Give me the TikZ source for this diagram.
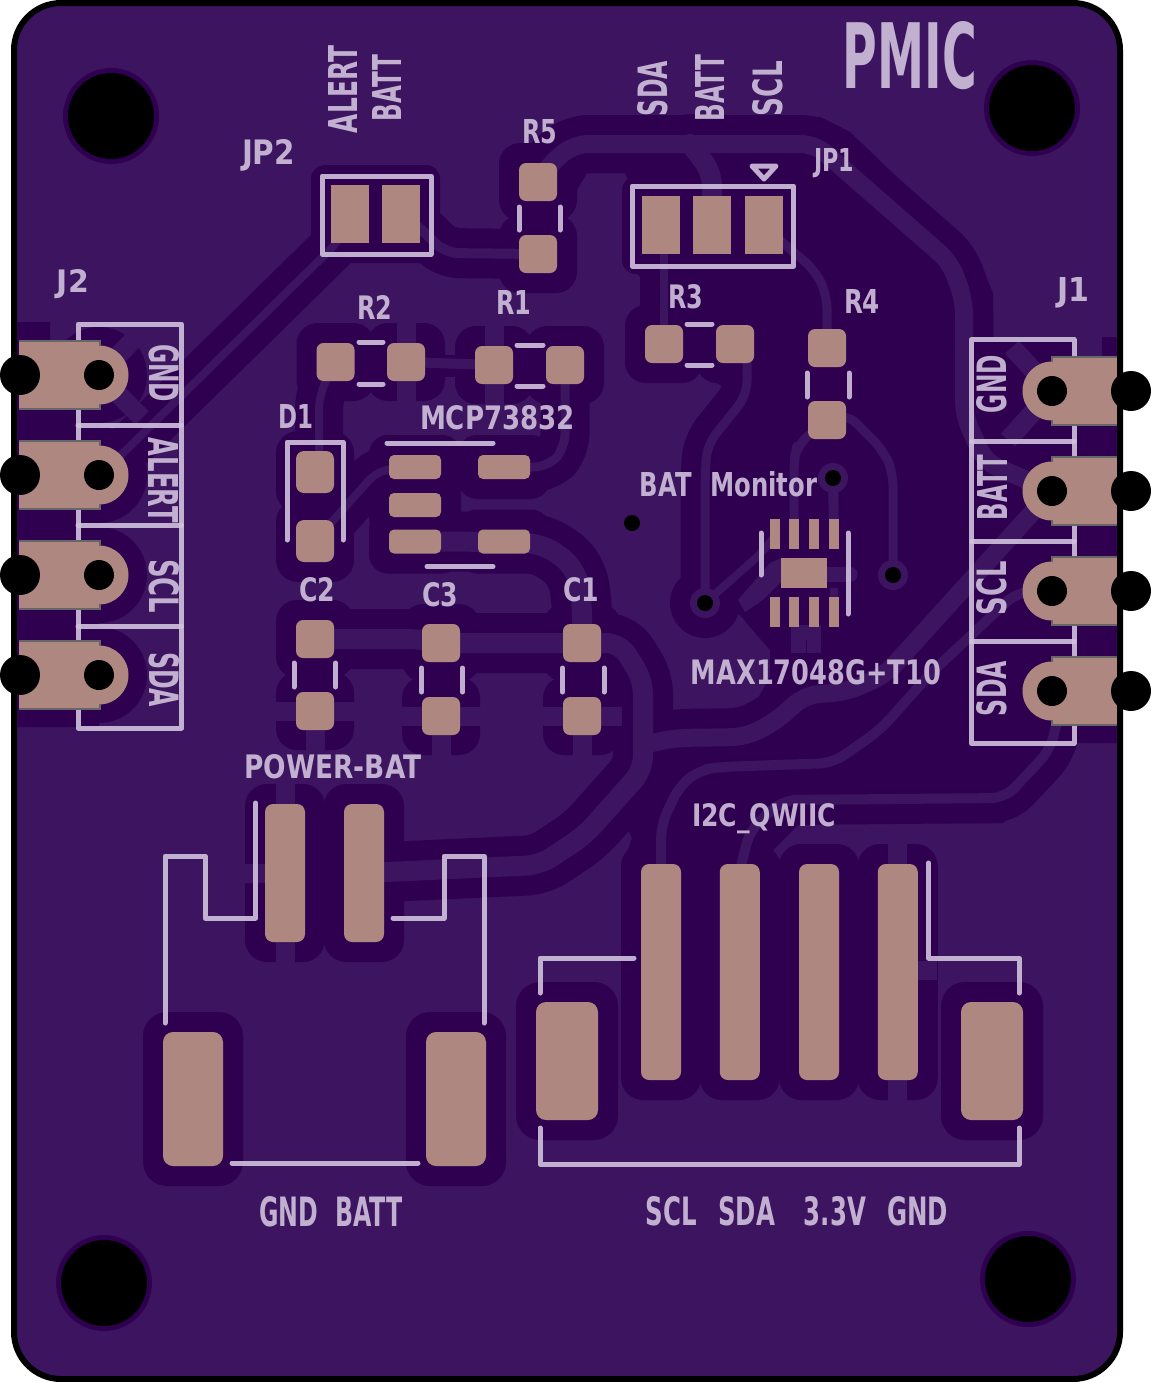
\documentclass[tikz,border=0pt]{standalone}
\usepackage{fontspec}
\setmainfont{DejaVu Sans}
\usetikzlibrary{positioning}

\definecolor{pcblight}{HTML}{3C1460}
\definecolor{pcbdark}{HTML}{300050}
\definecolor{padcol}{HTML}{AE8880}
\definecolor{silkcol}{HTML}{D0C2DC}
\definecolor{edgecol}{HTML}{666666}

\newcommand{\silklbl}[6]{\node[lbl,rotate=#2] (#1) at (#3) {\resizebox{#4pt}{#5pt}{#6}};}

% name/x/y/w/h/radius
\def\padlist{JPtwoa/350/214/38/58/0,JPtwob/401/214/38/58/0,
  JPonea/661/225/38/58/0,JPoneb/712/225/38/58/0,JPonec/764/225/38/58/0,
  Rfivea/538/182/38/38/7,Rfiveb/538/254/38/38/7,
  Rtwoa/335.5/362/38/38/7,Rtwob/406/362/38/38/7,
  Ronea/494/365/38/38/7,Roneb/565/365/38/38/7,
  Rthreea/664/344/38/38/7,Rthreeb/735/344/38/38/7,
  Rfoura/827/348/38/38/7,Rfourb/827/420/38/38/7,
  Donea/315/472/38/42/8,Doneb/315/541/38/42/8,
  Ua/415/467/52/24/5,Ub/415/505/52/24/5,Uc/415/541.5/52/24/5,
  Ud/504/541.5/52/24/5,Ue/504/467/52/24/5,
  Ctwoa/315/639/38/38/7,Ctwob/315/711/38/38/7,
  Cthreea/441/643/38/38/7,Cthreeb/441/716/38/38/7,
  Conea/582/643/38/38/7,Coneb/582/716/38/38/7,
  BTa/285/873/40/138/8,BTb/364/873/40/138/8,
  BTc/193/1099/60/134/10,BTd/456/1099/60/134/10,
  Qa/661/972/40/216/8,Qb/739.75/972/40/216/8,Qc/819/972/40/216/8,Qd/897.75/972/40/216/8,
  Qe/567/1061/62/118/10,Qf/992/1061/62/118/10}

\begin{document}
\begin{tikzpicture}[x=1pt,y=-1pt,
    clr/.style={fill=pcbdark,inner sep=0pt,outer sep=0pt},
    padbox/.style={fill=padcol,inner sep=0pt,outer sep=0pt},
    trk/.style={draw=\tcol,line width=#1*1pt+\tadd*1pt,line cap=round,line join=round,rounded corners=14pt},
    spoke/.style={draw=pcblight,line width=19pt},
    silk/.style={draw=silkcol,line width=5pt,line cap=round,line join=round,opacity=0.9},
    lbl/.style={inner sep=0pt,outer sep=0pt,text=silkcol,text opacity=0.9,font=\bfseries}]
    \useasboundingbox (0,0) rectangle (1151,1382);
    \draw[black,line width=6pt,fill=pcblight,rounded corners=47pt] (14,3) rectangle (1120,1379);

    % keep-out of the pour
    \fill[pcbdark] (17,322) -- (50,322) -- (50,341) -- (99,341) -- (99,727) -- (17,727) -- cycle;
    \fill[pcbdark] (548,140) -- (574,123) -- (590,117) -- (820,117) -- (850,132) -- (976,253) -- (993,293)
        -- (993,337) -- (1117,337) -- (1117,743) -- (1075,743) -- (1070,757) -- (1003,823) -- (800,823)
        -- (773,850) -- (780,860) -- (780,900) -- (622,900) -- (622,867) -- (632,838) -- (628,830)
        -- (665,745) -- (740,730) -- (770,677) -- (770,650) -- (750,627) -- (740,615) -- (705,603)
        -- (682,590) -- (682,457) -- (687,440) -- (700,430) -- (723,397) -- (723,387) -- (697,370)
        -- (687,380) -- (643,380) -- (625,360) -- (625,327) -- (640,307) -- (640,277) -- (623,257)
        -- (623,187) -- (628,180) -- (625,173) -- (587,173) -- (577,190) -- (548,190) -- cycle;
    \foreach \y in {375,475,575,675} {
        \fill[pcbdark] (99,\y) circle[radius=48pt];
    }
    \foreach \x/\y in {111/116,1032/108,104/1283,1028/1279} {
        \fill[pcbdark] (\x,\y) circle[radius=48pt];
    }
    \foreach \n/\x/\y/\w/\h/\rad in \padlist {
        \node[clr,minimum width={\w pt+40pt},minimum height={\h pt+40pt},rounded corners={\rad pt+14pt}] (\n) at (\x,\y) {};
    }
    \coordinate (Va) at (705,603);
    \coordinate (Vb) at (833,478);
    \coordinate (Vc) at (893,575);
    \coordinate (JoneBatt) at (1052,491);
    \coordinate (JoneScl) at (1052,591);
    \coordinate (JtwoAlert) at (99,475);
    \fill[pcbdark] (Va) circle[radius=35pt];

    % first pass is the clearance, second the copper
    \foreach \tcol/\tadd in {pcbdark/40,pcblight/0} {
        \draw[trk=18] (Rfivea.center) -- (548,166) -- (574,144) -- (815,144) -- (950,262) -- (964,300)
            -- (964,415) -- (985,462) -- (JoneBatt);
        \draw[trk=20] (690,144) -- (712,172) -- (JPoneb.center);
        \draw[trk=10] (JPtwob.center) -- (418,226) -- (445,253) -- (Rfiveb.center);
        \draw[trk=8] (JPtwoa.center) -- (340,240) -- (118,458) -- (JtwoAlert);
        \draw[trk=8] (Rtwoa.center) -- (319,395) -- (319,472);
        \draw[trk=8] (Doneb.center) -- (378,470) -- (Ua.center);
        \draw[trk=9] (Ue.center) -- (548,467) -- (565,448) -- (Roneb.center);
        \draw[trk=20] (Uc.center) -- (530,542) -- (556,551) -- (577,572) -- (582,603) -- (Conea.center);
        \draw[trk=20] (Ctwoa.center) -- (420,639) -- (Cthreea.center) -- (Conea.center) -- (620,643)
            -- (643,680) -- (643,770) -- (585,835) -- (540,865) -- (BTb.center);
        \draw[trk=18] (643,745) -- (675,738) -- (745,737) -- (775,722) -- (805,695) -- (846,692)
            -- (885,675) -- (1030,515) -- (JoneBatt);
        \draw[trk=10] (661,870) -- (661,825) -- (680,785) -- (700,770) -- (720,767) -- (833,763)
            -- (880,730) -- (930,674) -- (1017,592) -- (JoneScl);
        \draw[trk=10] (740,870) -- (750,830) -- (783,800) -- (1005,798) -- (1050,750) -- (1057,722);
        \draw[trk=9] (JPonec.center) -- (785,245) -- (815,270) -- (827,295) -- (Rfoura.center);
        \draw[trk=9] (Rfourb.center) -- (846,413) -- (883,450) -- (893,472) -- (Vc);
        \draw[trk=9] (Rfourb.center) -- (797,445) -- (794,460) -- (794,534);
        \draw[trk=8] (664,225) -- (Rthreea.center);
        \draw[trk=9] (747,344) -- (747,395) -- (707,445) -- (705,480) -- (Va);
        \draw[trk=8] (Va) -- (765,550) -- (775,535);
        \draw[trk=10] (Vb) -- (834,534);
    }

    \fill[pcbdark] (425,355) rectangle (475,377);
    \draw[pcblight,line width=10pt] (Rtwob.center) -- (Ronea.center);

    % thermal spokes
    \foreach \p in {Ctwob,Cthreeb,Coneb} {
        \draw[spoke] (\p.center) -- ++(0,40);
        \draw[spoke] (\p.center) -- ++(-40,0);
        \draw[spoke] (\p.center) -- ++(40,0);
    }
    \draw[spoke] (406,322) -- (406,402);
    \draw[spoke] (494,322) -- (494,405);
    \draw[spoke] (BTa.center) -- ++(0,-90);
    \draw[spoke] (BTa.center) -- ++(0,90);
    \draw[spoke] (BTa.center) -- ++(-40,0);
    \draw[spoke] (Qd.center) -- ++(0,-129);
    \draw[spoke] (Qd.center) -- ++(0,129);
    \draw[spoke] (917,970) -- (937,970);
    \draw[spoke] (1052,391) -- (1012,347);
    \draw[spoke] (1052,391) -- (1008,440);
    \draw[spoke] (99,375) -- (138,335);
    \draw[spoke] (99,375) -- (142,418);
    \fill[pcblight] (1076,337) rectangle (1102,357);

    % exposed pad copper of the monitor
    \fill[pcblight] (738,600) -- (770,563) -- (781,558) -- (781,582) -- (763,600) -- (745,612) -- cycle;
    \draw[pcblight,line width=15pt,line cap=round] (827,574) -- (850,574);
    \draw[pcblight,line width=8pt] (834,588) -- (834,612);
    \fill[pcblight] (791,625) rectangle (821,653);
    \draw[pcbdark,line width=1pt] (806,640) -- (806,653);

    % silk under the mask openings
    \draw[silk] (78,324) rectangle (181.5,728);
    \draw[silk] (78,425) -- (181.5,425);
    \draw[silk] (78,525) -- (181.5,525);
    \draw[silk] (78,626) -- (181.5,626);
    \draw[silk] (971.5,339.5) rectangle (1074,743.5);
    \draw[silk] (971.5,441) -- (1074,441);
    \draw[silk] (971.5,541) -- (1074,541);
    \draw[silk] (971.5,641.5) -- (1074,641.5);
    \draw[silk] (322,176) rectangle (431,254);
    \draw[silk] (632,186) rectangle (793.5,266);
    \draw[silk] (752,166) -- (776,166) -- (764,179) -- cycle;
    \foreach \x/\ya/\yb in {519/207/230,560/207/230,807/373/397,849/373/397,294/663/687,335.5/663/687,
        421.5/668/692,462.5/668/692,562.5/668/692,604/668/692,761/533/575,848/533/614} {
        \draw[silk] (\x,\ya) -- (\x,\yb);
    }
    \foreach \xa/\xb/\y in {359/383/342,359/383/384,517/543/345,517/543/386,687/712/324,687/712/365,
        387/493/443,427/493/566.5,232/418/1163} {
        \draw[silk] (\xa,\y) -- (\xb,\y);
    }
    \draw[silk] (287,540) -- (287,442) -- (343,442) -- (343,540);
    \draw[silk] (165,1023) -- (165,856) -- (205,856) -- (205,918) -- (255.5,918) -- (255.5,803);
    \draw[silk] (393,918) -- (444,918) -- (444,856) -- (484,856) -- (484,1023);
    \draw[silk] (540,993) -- (540,958) -- (634,958);
    \draw[silk] (928.5,863) -- (928.5,958) -- (1019,958) -- (1019,993);
    \draw[silk] (540,1128) -- (540,1164) -- (1019,1164) -- (1019,1128);

    % edge connectors
    \foreach \y in {375,475,575,675} {
        \fill[padcol] (19,\y-34) rectangle (100,\y+34);
        \fill[padcol] (99,\y) circle[radius=29.5pt];
        \draw[edgecol,line width=2pt] (100,\y-29) -- (100,\y-34) -- (19,\y-34);
        \draw[edgecol,line width=2pt] (100,\y+29) -- (100,\y+34) -- (19,\y+34);
    }
    \foreach \y in {391,491,591,691} {
        \fill[padcol] (1052,\y-34) rectangle (1117,\y+34);
        \fill[padcol] (1052,\y) circle[radius=29.5pt];
        \draw[edgecol,line width=2pt] (1052,\y-29) -- (1052,\y-34) -- (1117,\y-34);
        \draw[edgecol,line width=2pt] (1052,\y+29) -- (1052,\y+34) -- (1117,\y+34);
    }
    \foreach \n/\x/\y/\w/\h/\rad in \padlist {
        \node[padbox,minimum width=\w pt,minimum height=\h pt,rounded corners=\rad pt] (p\n) at (\x,\y) {};
    }
    \foreach \x in {775,794,814,834} {
        \fill[padcol] (\x-5,519) rectangle (\x+5,549);
        \fill[padcol] (\x-5,597) rectangle (\x+5,627);
    }
    \fill[padcol] (781,558) rectangle (827,588);

    % holes
    \foreach \x/\y in {111/116,1032/108,104/1283,1028/1279} {
        \fill[black] (\x,\y) circle[radius=43pt];
    }
    \foreach \y in {375,475,575,675} {
        \fill[black] (99,\y) circle[radius=15pt];
        \fill[black] (20,\y) circle[radius=20pt];
    }
    \foreach \y in {391,491,591,691} {
        \fill[black] (1052,\y) circle[radius=15pt];
        \fill[black] (1131,\y) circle[radius=20pt];
    }
    \foreach \v in {Va,Vb,Vc} {
        \fill[pcblight] (\v) circle[radius=15pt];
        \fill[black] (\v) circle[radius=8pt];
    }
    \fill[black] (632,523) circle[radius=8pt];

    \silklbl{pmic}{0}{910,55.5}{134}{67}{PMIC}
    \silklbl{alertT}{90}{342.5,89.5}{87}{29}{ALERT}
    \silklbl{battT}{90}{386.5,88}{66}{29}{BATT}
    \silklbl{sdaT}{90}{653,88.5}{55}{30}{SDA}
    \silklbl{battU}{90}{709.5,88}{66}{29}{BATT}
    \silklbl{sclT}{90}{768,88.5}{55}{30}{SCL}
    \silklbl{jptwo}{0}{268.5,155.5}{53}{25}{JP2}
    \silklbl{jpone}{0}{834,163}{40}{23}{JP1}
    \silklbl{rfive}{0}{539.5,132}{35}{24}{R5}
    \silklbl{rtwo}{0}{374.5,307}{35}{24}{R2}
    \silklbl{rone}{0}{513.5,302}{35}{24}{R1}
    \silklbl{rthree}{0}{686,296.5}{35}{24}{R3}
    \silklbl{rfour}{0}{862,301}{36}{24}{R4}
    \silklbl{jtwo}{0}{73,284.5}{32}{23}{J2}
    \silklbl{jone}{0}{1073.5,293}{32}{24}{J1}
    \silklbl{done}{0}{295.5,416.5}{35}{24}{D1}
    \silklbl{mcp}{0}{497.5,418}{155}{24}{MCP73832}
    \silklbl{ctwo}{0}{317,590}{36}{24}{C2}
    \silklbl{cthree}{0}{440,595}{36}{24}{C3}
    \silklbl{cone}{0}{581,590}{36}{24}{C1}
    \silklbl{gndL}{-90}{164,373}{58}{30}{GND}
    \silklbl{alertL}{-90}{164,480.5}{85}{30}{ALERT}
    \silklbl{sclL}{-90}{164,586}{54}{30}{SCL}
    \silklbl{sdaL}{-90}{164,679.5}{55}{30}{SDA}
    \silklbl{gndR}{90}{992,384}{58}{30}{GND}
    \silklbl{battR}{90}{992,487.5}{65}{30}{BATT}
    \silklbl{sclR}{90}{992,588}{54}{30}{SCL}
    \silklbl{sdaR}{90}{992,688.5}{55}{30}{SDA}
    \silklbl{batmon}{0}{728.5,484.5}{177}{25}{BAT\hspace{.75em}Monitor}
    \silklbl{maxic}{0}{816,672.5}{250}{25}{MAX17048G+T10}
    \silklbl{qwiic}{0}{764,819}{144}{23}{I2C\_QWIIC}
    \silklbl{powerbat}{0}{333,766.5}{177}{24}{POWER-BAT}
    \silklbl{gndbatt}{0}{331,1212}{143}{30}{GND\hspace{.7em}BATT}
    \silklbl{qwiicpins}{0}{797,1211.5}{302}{29}{SCL\hspace{.86em}SDA\hspace{1.18em}3.3V\hspace{.86em}GND}
\end{tikzpicture}
\end{document}
